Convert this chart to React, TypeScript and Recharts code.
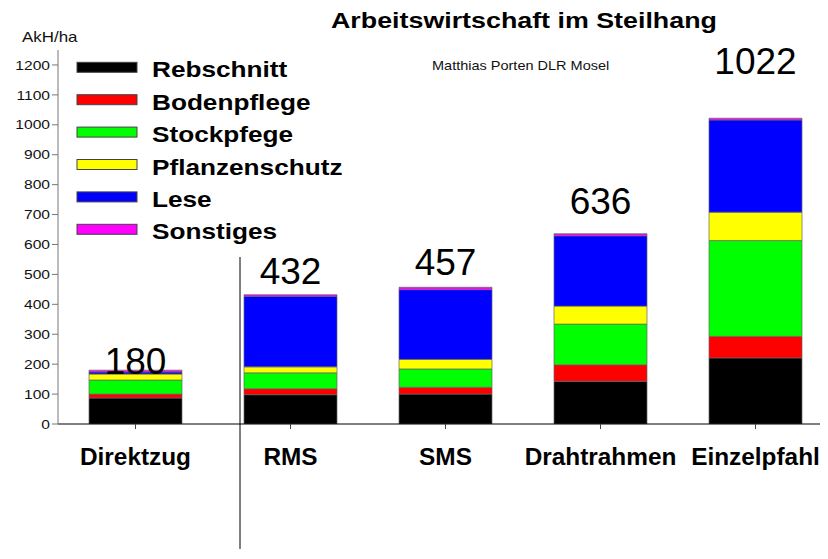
import React from 'react';
import { BarChart, Bar, XAxis, YAxis, LabelList } from 'recharts';

// Arbeitszeitbedarf (AkH/ha) je Erziehungssystem
const categories = ['Direktzug', 'RMS', 'SMS', 'Drahtrahmen', 'Einzelpfahl'];
const rebschnitt = [87, 98, 100, 143, 221];
const bodenpflege = [13, 20, 23, 55, 72];
const stockpfege = [47, 53, 61, 136, 320];
const pflanzenschutz = [20, 20, 32, 60, 95];
const lese = [7, 236, 233, 235, 308];
const sonstiges = [6, 5, 8, 7, 6];
const totals = [180, 432, 457, 636, 1022];
const yTicks = [0, 100, 200, 300, 400, 500, 600, 700, 800, 900, 1000, 1100, 1200];

const series = [
  { key: 'rebschnitt', name: 'Rebschnitt', color: '#000000', values: rebschnitt },
  { key: 'bodenpflege', name: 'Bodenpflege', color: '#ff0000', values: bodenpflege },
  { key: 'stockpfege', name: 'Stockpfege', color: '#00ff00', values: stockpfege },
  { key: 'pflanzenschutz', name: 'Pflanzenschutz', color: '#ffff00', values: pflanzenschutz },
  { key: 'lese', name: 'Lese', color: '#0000ff', values: lese },
  { key: 'sonstiges', name: 'Sonstiges', color: '#ff00ff', values: sonstiges },
];

const data = categories.map((name, i) => {
  const row: Record<string, string | number> = { name, total: totals[i] };
  series.forEach((s) => {
    row[s.key] = s.values[i];
  });
  return row;
});

const FONT = '"Liberation Sans", Arial, Helvetica, sans-serif';
// how far the total labels sit above each bar (px)
const labelLift = [-4, 11, 12, 20, 44];

function CategoryTick({ x, y, payload }: any) {
  return (
    <text
      transform={`translate(${x},${y + 34}) scale(1.06,1)`}
      textAnchor="middle"
      fontFamily={FONT}
      fontWeight="bold"
      fontSize={23}
      fill="#000"
    >
      {payload.value}
    </text>
  );
}

function ValueTick({ x, y, payload }: any) {
  return (
    <text
      transform={`translate(${x},${y}) scale(1.2,1)`}
      textAnchor="end"
      dy="0.36em"
      fontFamily={FONT}
      fontSize={13}
      fill="#111"
    >
      {payload.value}
    </text>
  );
}

function TotalLabel(props: any) {
  const { x, y, width, value } = props;
  const i = totals.indexOf(Number(value));
  return (
    <text
      x={x + width / 2}
      y={y - (labelLift[i] ?? 10)}
      textAnchor="middle"
      fontFamily={FONT}
      fontSize={37}
      fill="#000"
    >
      {value}
    </text>
  );
}

export default function App() {
  return (
    <div style={{ position: 'relative', width: 828, height: 559, margin: -8, overflow: 'hidden', background: '#fff' }}>
      <BarChart
        width={840}
        height={559}
        data={data}
        margin={{ top: 50, right: 7, left: 0, bottom: 0 }}
        barCategoryGap="20%"
      >
        <XAxis
          dataKey="name"
          height={135}
          axisLine={{ stroke: '#000' }}
          tickLine={{ stroke: '#444' }}
          tickSize={5}
          tick={<CategoryTick />}
          interval={0}
        />
        <YAxis
          width={58}
          domain={[0, 1250]}
          ticks={yTicks}
          axisLine={{ stroke: '#777' }}
          tickLine={{ stroke: '#777' }}
          tickSize={6}
          tick={<ValueTick />}
          allowDataOverflow
        />
        {series.map((s, idx) => (
          <Bar
            key={s.key}
            dataKey={s.key}
            name={s.name}
            stackId="a"
            fill={s.color}
            stroke="#666"
            strokeWidth={0.7}
            isAnimationActive={false}
          >
            {idx === series.length - 1 && (
              <LabelList dataKey="total" content={<TotalLabel />} />
            )}
          </Bar>
        ))}
      </BarChart>

      <svg
        width={828}
        height={559}
        style={{ position: 'absolute', left: 0, top: 0, pointerEvents: 'none' }}
      >
        <text transform="translate(331,28) scale(1.22,1)" fontFamily={FONT} fontWeight="bold" fontSize={22} fill="#000">
          Arbeitswirtschaft im Steilhang
        </text>
        <text transform="translate(432,70) scale(1.21,1)" fontFamily={FONT} fontSize={12} fill="#111">
          Matthias Porten DLR Mosel
        </text>
        <text transform="translate(22,42) scale(1.21,1)" fontFamily={FONT} fontSize={14} fill="#111">
          AkH/ha
        </text>
        {series.map((s, i) => {
          const base = 77.3 + i * 32.4;
          return (
            <g key={s.key}>
              <rect x={77} y={base - 15} width={60} height={10} fill={s.color} stroke="#444" strokeWidth={1} />
              <text
                transform={`translate(152,${base}) scale(1.19,1)`}
                fontFamily={FONT}
                fontWeight="bold"
                fontSize={22}
                fill="#000"
              >
                {s.name}
              </text>
            </g>
          );
        })}
        <line x1={240} y1={257} x2={240} y2={549} stroke="#000" strokeWidth={1} />
      </svg>
    </div>
  );
}
